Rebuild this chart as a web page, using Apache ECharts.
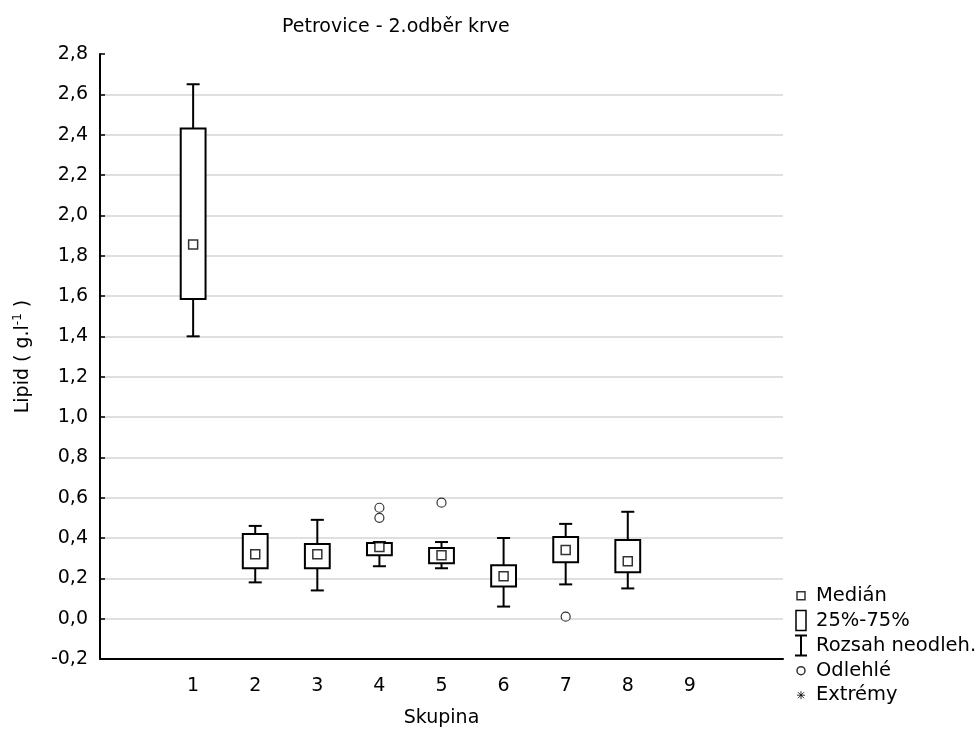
<!DOCTYPE html>
<html>
<head>
<meta charset="utf-8">
<script src="https://cdn.jsdelivr.net/npm/echarts@6/dist/echarts.min.js"></script>
<style>
  html, body { margin: 0; padding: 0; background: #fff; }
  #chart { width: 980px; height: 733px; }
</style>
</head>
<body>
<div id="chart"></div>
<script>
// Category slots on the x axis (outer slots are blank padding)
const categories = ['', '1', '2', '3', '4', '5', '6', '7', '8', '9', ''];

// Lipid (g/l) summary per group
const groups      = ['1', '2', '3', '4', '5', '6', '7', '8'];
const whiskerLow  = [1.40, 0.18, 0.14, 0.26, 0.25, 0.06, 0.17, 0.15];
const q1          = [1.585, 0.25, 0.25, 0.315, 0.275, 0.16, 0.28, 0.23];
const median      = [1.855, 0.32, 0.32, 0.355, 0.315, 0.21, 0.34, 0.285];
const q3          = [2.43, 0.42, 0.37, 0.375, 0.35, 0.265, 0.405, 0.39];
const whiskerHigh = [2.65, 0.46, 0.49, 0.38, 0.38, 0.40, 0.47, 0.53];

// Outliers and extremes: [group, value]
const outliers = [['4', 0.55], ['4', 0.50], ['5', 0.575], ['7', 0.01]];
const extremes = [];

// Y axis range and step
const yMin = -0.2, yMax = 2.8, yStep = 0.2;

const FONT = 'DejaVu Sans';
const fmt = v => v.toFixed(1).replace('.', ',');

// all grid lines except the one at the top of the axis
const nLines = Math.round((yMax - yMin) / yStep) + 1;
const gridColors = Array.from({ length: nLines }, (_, i) => i === nLines - 1 ? 'rgba(0,0,0,0)' : '#d4d4d4');

const whiskerData = groups.map((g, i) => [g, whiskerLow[i], q1[i], q3[i], whiskerHigh[i]]);
const boxData = groups.map((g, i) => [g, q1[i], q3[i]]);
const medianData = groups.map((g, i) => [g, median[i]]);

const chart = echarts.init(document.getElementById('chart'), null, { renderer: 'canvas' });

chart.setOption({
  animation: false,
  backgroundColor: '#fff',
  textStyle: { fontFamily: FONT, color: '#000' },
  title: {
    text: 'Petrovice - 2.odběr krve',
    left: 282, top: 18, padding: 0,
    textStyle: { fontFamily: FONT, fontSize: 19, fontWeight: 'normal', color: '#000' }
  },
  grid: { left: 100, right: 197, top: 54, bottom: 72, containLabel: false },
  legend: {
    orient: 'vertical',
    left: 790, top: 584, padding: 0,
    itemWidth: 20, itemHeight: 22, itemGap: 1.3,
    selectedMode: false,
    textStyle: { fontFamily: FONT, fontSize: 19.5, color: '#000', lineHeight: 22 },
    itemStyle: { color: '#fff', borderColor: '#000', borderWidth: 1.5 },
    data: [
      { name: 'Medián', icon: 'path://M0,0M20,22M6,7h8v8h-8Z' },
      { name: '25%-75%', icon: 'path://M0,0M20,22M5,1h10v20h-10Z' },
      { name: 'Rozsah neodleh.', icon: 'path://M0,0M20,22M4,1h12M10,1v20M4,21h12', itemStyle: { borderWidth: 2 } },
      { name: 'Odlehlé', icon: 'path://M0,0M20,22M14,11A4,4,0,1,1,6,11A4,4,0,1,1,14,11Z' },
      { name: 'Extrémy', icon: 'path://M0,0M20,22M10,7v8M6,11h8M7,8l6,6M13,8l-6,6', itemStyle: { borderWidth: 1 } }
    ]
  },
  xAxis: {
    type: 'category',
    data: categories,
    boundaryGap: true,
    name: 'Skupina',
    nameLocation: 'middle',
    nameGap: 50,
    nameTextStyle: { fontFamily: FONT, fontSize: 19, color: '#000' },
    axisLine: { onZero: false, lineStyle: { color: '#000', width: 2 } },
    axisTick: { inside: true, alignWithLabel: true, length: 5, lineStyle: { color: '#000', width: 1.5 } },
    axisLabel: { margin: 18, fontFamily: FONT, fontSize: 19, color: '#000', interval: 0 },
    splitLine: { show: false }
  },
  yAxis: {
    type: 'value',
    min: yMin, max: yMax, interval: yStep,
    name: 'Lipid ( g.l{sup|-1} )',
    nameLocation: 'middle',
    nameGap: 66,
    nameTextStyle: {
      fontFamily: FONT, fontSize: 19, color: '#000', lineHeight: 22,
      rich: { sup: { fontFamily: FONT, fontSize: 12, color: '#000', verticalAlign: 'top', lineHeight: 22 } }
    },
    axisLine: { show: true, onZero: false, lineStyle: { color: '#000', width: 2 } },
    axisTick: { show: true, inside: true, length: 5, lineStyle: { color: '#000', width: 1.5 } },
    axisLabel: { margin: 12, fontFamily: FONT, fontSize: 19, color: '#000', formatter: fmt },
    splitLine: { show: true, lineStyle: { color: gridColors, width: 1.5 } }
  },
  series: [
    {
      name: 'Rozsah neodleh.',
      type: 'custom',
      z: 2,
      data: whiskerData,
      encode: { x: 0, y: [1, 2, 3, 4] },
      itemStyle: { color: '#000' },
      renderItem: function (params, api) {
        const x = api.value(0);
        const lo = api.coord([x, api.value(1)]);
        const bq1 = api.coord([x, api.value(2)]);
        const bq3 = api.coord([x, api.value(3)]);
        const hi = api.coord([x, api.value(4)]);
        const cap = api.size([1, 0])[0] * 0.21;
        const st = { stroke: '#000', lineWidth: 2, fill: null };
        return {
          type: 'group',
          children: [
            { type: 'line', shape: { x1: hi[0], y1: hi[1], x2: bq3[0], y2: bq3[1] }, style: st },
            { type: 'line', shape: { x1: bq1[0], y1: bq1[1], x2: lo[0], y2: lo[1] }, style: st },
            { type: 'line', shape: { x1: hi[0] - cap / 2, y1: hi[1], x2: hi[0] + cap / 2, y2: hi[1] }, style: st },
            { type: 'line', shape: { x1: lo[0] - cap / 2, y1: lo[1], x2: lo[0] + cap / 2, y2: lo[1] }, style: st }
          ]
        };
      }
    },
    {
      name: '25%-75%',
      type: 'custom',
      z: 3,
      data: boxData,
      encode: { x: 0, y: [1, 2] },
      itemStyle: { color: '#000' },
      renderItem: function (params, api) {
        const x = api.value(0);
        const lo = api.coord([x, api.value(1)]);
        const hi = api.coord([x, api.value(2)]);
        const w = api.size([1, 0])[0] * 0.4;
        return {
          type: 'rect',
          shape: { x: lo[0] - w / 2, y: hi[1], width: w, height: lo[1] - hi[1] },
          style: { fill: '#fff', stroke: '#000', lineWidth: 2 }
        };
      }
    },
    {
      name: 'Medián',
      type: 'scatter',
      z: 4,
      data: medianData,
      symbol: 'rect',
      symbolSize: 9,
      itemStyle: { color: '#fff', borderColor: '#000', borderWidth: 1.5 }
    },
    {
      name: 'Odlehlé',
      type: 'scatter',
      z: 4,
      data: outliers,
      symbol: 'circle',
      symbolSize: 9,
      itemStyle: { color: '#fff', borderColor: '#000', borderWidth: 1.2 }
    },
    {
      name: 'Extrémy',
      type: 'scatter',
      z: 4,
      data: extremes,
      symbol: 'path://M10,7v8M6,11h8M7,8l6,6M13,8l-6,6',
      symbolSize: 9,
      itemStyle: { color: '#fff', borderColor: '#000', borderWidth: 1 }
    }
  ]
});
</script>
</body>
</html>
